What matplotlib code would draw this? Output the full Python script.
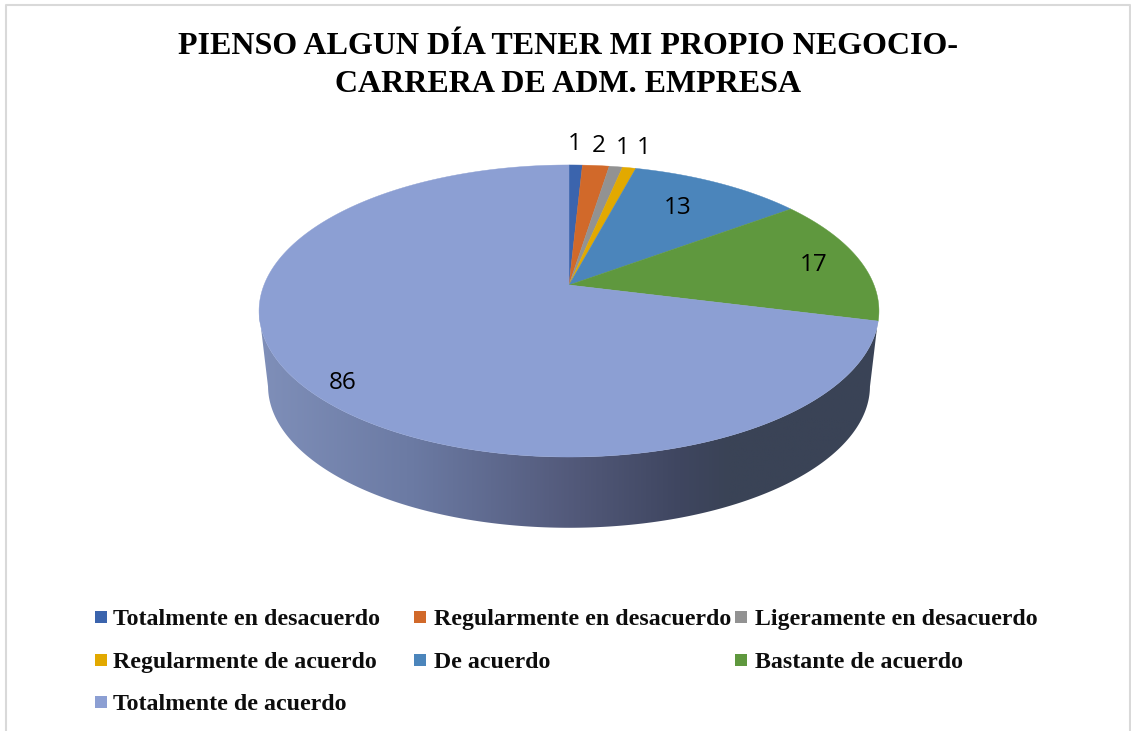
import matplotlib
matplotlib.use("Agg")
import matplotlib.pyplot as plt
import numpy as np
from matplotlib.colors import LinearSegmentedColormap
from matplotlib.patches import Polygon, Rectangle

title = "PIENSO ALGUN DÍA TENER MI PROPIO NEGOCIO-\nCARRERA DE ADM. EMPRESA"
categories = ["Totalmente en desacuerdo", "Regularmente en desacuerdo", "Ligeramente en desacuerdo",
              "Regularmente de acuerdo", "De acuerdo", "Bastante de acuerdo", "Totalmente de acuerdo"]
values = [1, 2, 1, 1, 13, 17, 86]
colors = ["#3b64ad", "#d1692a", "#929292", "#e2a900", "#4b85bb", "#5f983e", "#8c9fd3"]
label_x = [575, 599, 623, 644, 678, 814, 343]
label_y = [144, 146, 148, 148, 208, 265, 383]
legend_x = [95, 414, 735, 95, 414, 735, 95]
legend_text_x = [113, 434, 755, 113, 434, 755, 113]
legend_y = [617, 617, 617, 660, 660, 660, 702]

# perspective of the pie top, in pixels
CX, CY = 569, 285
A, B, K = 305, 141.4, 0.178


def rim(theta):
    w = 1 + K * np.cos(theta)
    return CX + A * np.sin(theta) / w, CY - B * np.cos(theta) / w


def lower(x, y):
    # bottom rim is a bit smaller and lower than the top one
    return CX + (x - CX) * 0.971, 311 + 75 + (y - 311) * 0.971


fig = plt.figure(figsize=(11.31, 7.31), dpi=100)
ax = fig.add_axes([0, 0, 1, 1])
ax.set_xlim(0, 1131)
ax.set_ylim(731, 0)
ax.axis("off")

# chart border, no line at the bottom
ax.plot([6, 6, 1130, 1130], [731, 4.5, 4.5, 731], color="#d9d9d9", lw=1.5)

# side of the pie
t = np.linspace(0, 2 * np.pi, 721)
tx, ty = rim(t)
i_right, i_left = np.argmax(tx), np.argmin(tx)
top_front = np.column_stack([tx[i_right:i_left + 1], ty[i_right:i_left + 1]])
bx, by = lower(tx, ty)
bot_front = np.column_stack([bx[i_right:i_left + 1], by[i_right:i_left + 1]])
side = Polygon(np.vstack([top_front, bot_front[::-1]]), closed=True, transform=ax.transData,
               fc="none", ec="none")
ax.add_patch(side)
cmap = LinearSegmentedColormap.from_list("side", [(0, "#7f8fb9"), (0.25, "#6b7aa3"), (0.5, "#535a7b"),
                                                  (0.68, "#3f4660"), (0.76, "#3a4356"), (1, "#3a4356")])
im = ax.imshow(np.linspace(0, 1, 256).reshape(1, -1), cmap=cmap, extent=[259, 878, 530, 310], aspect="auto", zorder=1)
im.set_clip_path(side)
ax.set_xlim(0, 1131)
ax.set_ylim(731, 0)

# top of the pie
angles = np.cumsum([0] + values) / sum(values) * 2 * np.pi
for i in range(len(values)):
    th = np.linspace(angles[i], angles[i + 1], 300)
    x, y = rim(th)
    ax.add_patch(Polygon(np.column_stack([np.r_[CX, x], np.r_[CY, y]]), closed=True,
                         fc=colors[i], ec=colors[i], lw=0.3, zorder=2))

for i in range(len(values)):
    ax.text(label_x[i], label_y[i], str(values[i]), family="Open Sans", fontsize=17.5,
            color="black", ha="center", va="center", zorder=3)

ax.text(568.5, 65.5, title, family="Liberation Serif", weight="bold", fontsize=23, color="black",
        ha="center", va="center", linespacing=1.44)

for i in range(len(categories)):
    ax.add_patch(Rectangle((legend_x[i], legend_y[i] - 6), 12, 12, fc=colors[i], ec="none"))
    ax.text(legend_text_x[i], legend_y[i], categories[i], family="Liberation Serif", weight="bold",
            fontsize=17.2, color="#0d0d0d", ha="left", va="center_baseline")

fig.savefig("out.png", dpi=100)
